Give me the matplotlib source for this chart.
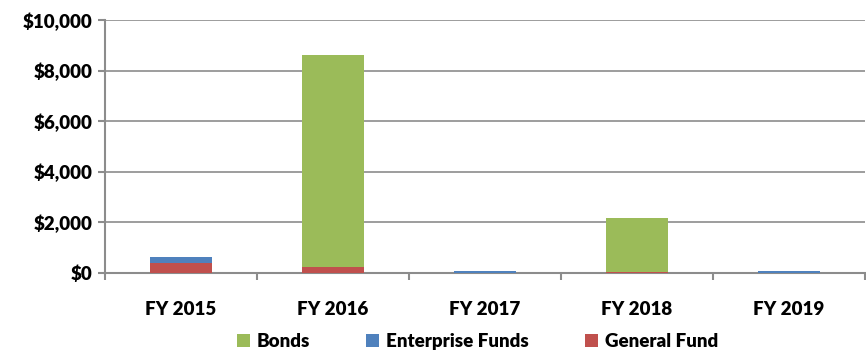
import numpy as np
import matplotlib.pyplot as plt
from matplotlib.ticker import FuncFormatter

years = ["FY 2015", "FY 2016", "FY 2017", "FY 2018", "FY 2019"]
general_fund = [400, 250, 0, 40, 0]
enterprise_funds = [250, 0, 60, 0, 60]
bonds = [0, 8370, 0, 2120, 0]

colors = {"Bonds": "#9BBB59", "Enterprise Funds": "#4F81BD", "General Fund": "#C0504D"}
axis_gray = "#8C8C8C"

plt.rcParams['font.family'] = ['Lato', 'DejaVu Sans']
plt.rcParams['font.weight'] = 'heavy'

fig = plt.figure(figsize=(8.66, 3.52), dpi=100)
ax = fig.add_axes([0.121, 0.2244, 0.878, 0.7188])

x = np.arange(len(years))
w = 0.41
gf = np.array(general_fund)
ef = np.array(enterprise_funds)
bd = np.array(bonds)

# stack: general fund at bottom, then enterprise, bonds on top
b_gf = ax.bar(x, gf, w, color=colors["General Fund"], label="General Fund", zorder=3)
b_ef = ax.bar(x, ef, w, bottom=gf, color=colors["Enterprise Funds"], label="Enterprise Funds", zorder=3)
b_bd = ax.bar(x, bd, w, bottom=gf + ef, color=colors["Bonds"], label="Bonds", zorder=3)

ax.set_xlim(-0.5, len(years) - 0.5)
ax.set_ylim(0, 10000)
ax.set_yticks(np.arange(0, 10001, 2000))
ax.yaxis.set_major_formatter(FuncFormatter(lambda v, p: "${:,.0f}".format(v)))
ax.yaxis.grid(True, color=axis_gray, linewidth=1.2, zorder=0)

ax.set_xticks(x)
ax.set_xticklabels(years)
ax.set_xticks(np.arange(-0.5, len(years), 1.0), minor=True)
ax.tick_params(axis='x', which='major', length=0, pad=20, labelsize=13.5)
ax.tick_params(axis='x', which='minor', length=5, width=1.5, color=axis_gray)
ax.tick_params(axis='y', length=5, width=1.5, color=axis_gray, labelsize=13.5, pad=4)

for s in ["top", "right"]:
    ax.spines[s].set_visible(False)
for s in ["left", "bottom"]:
    ax.spines[s].set_color(axis_gray)
    ax.spines[s].set_linewidth(1.5)

ax.legend(handles=[b_bd, b_ef, b_gf], labels=["Bonds", "Enterprise Funds", "General Fund"],
          loc='center', bbox_to_anchor=(0.49, -0.27), ncol=3, frameon=False,
          fontsize=13.5, handlelength=0.7, handleheight=0.7, handletextpad=0.35,
          columnspacing=3.0)

fig.savefig("out.png", dpi=100)
